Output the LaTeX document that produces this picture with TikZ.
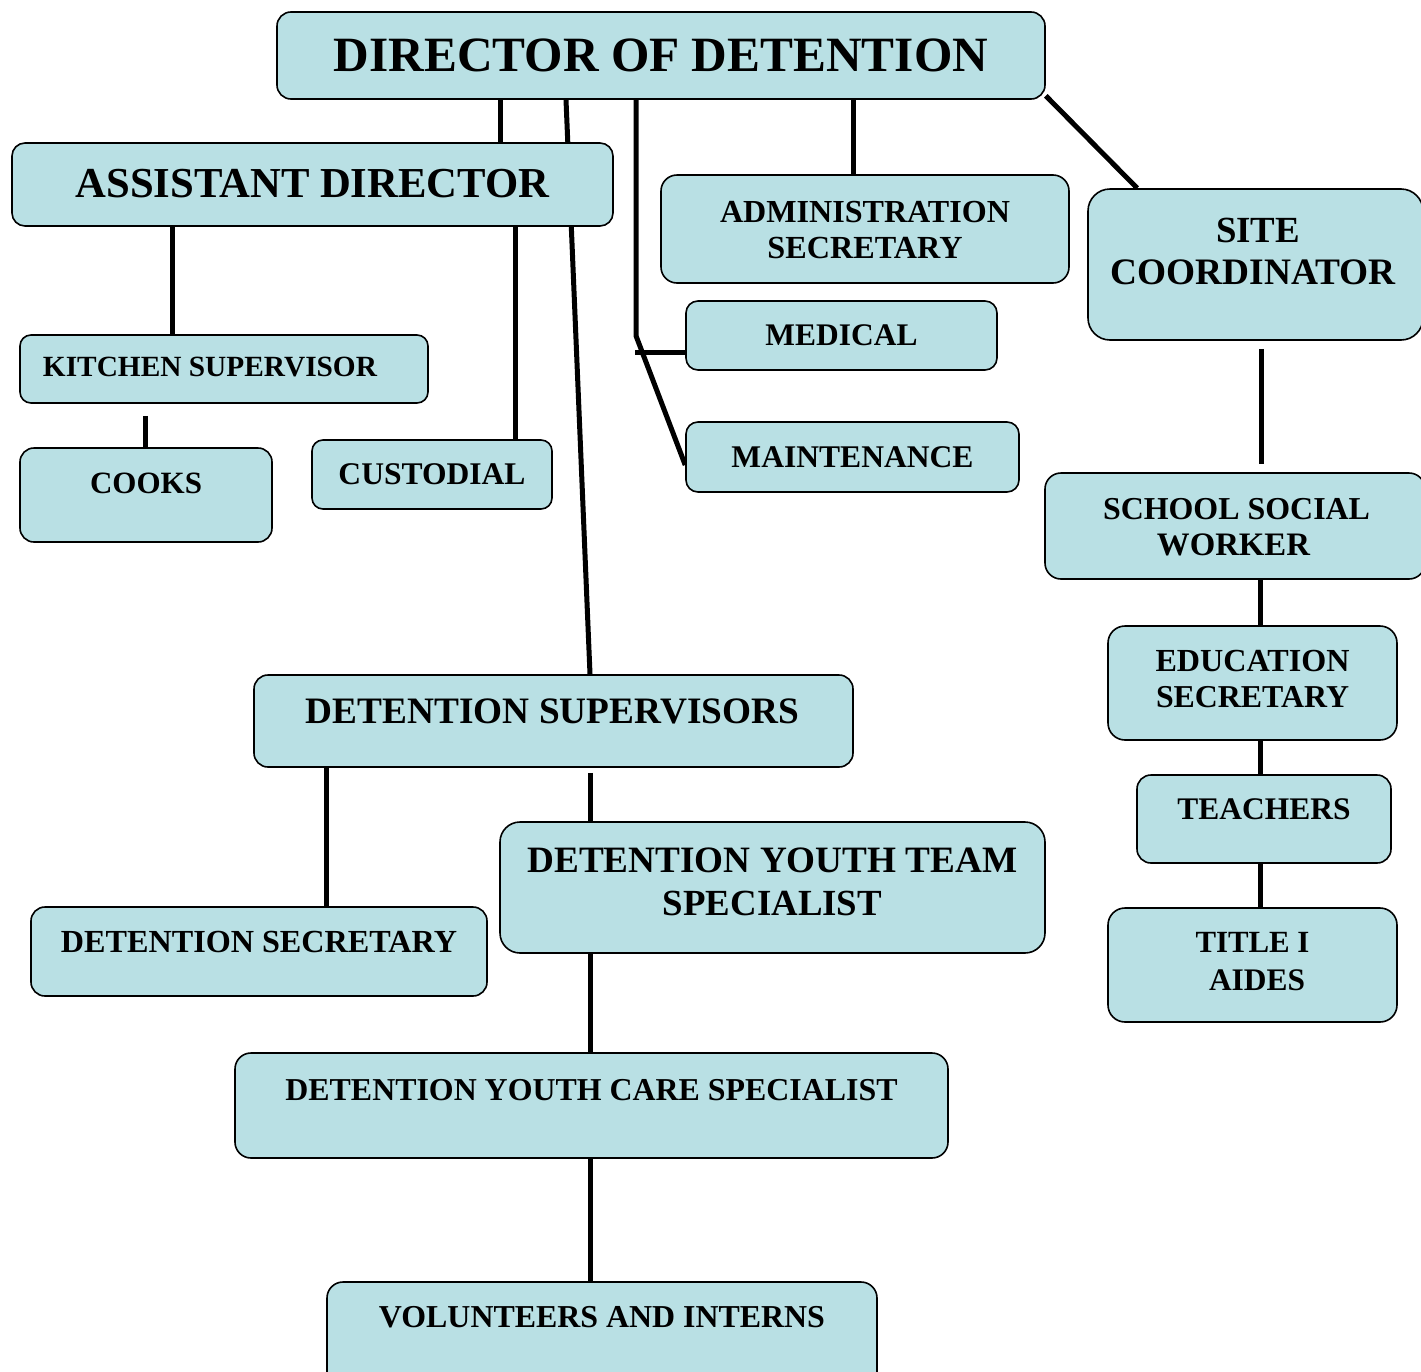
\documentclass[tikz,border=0pt]{standalone}
\usepackage{fontspec}
\setmainfont{Liberation Serif}
\usepackage{graphicx}
\usetikzlibrary{backgrounds}
\definecolor{boxfill}{RGB}{185,224,228}
% one text line: #1 = twice the horizontal offset, #2 = width, #3 = text
\newcommand\tln[3]{\hbox to 0pt{\hss\kern#1pt\smash{\resizebox{#2pt}{!}{\bfseries #3}}\hss}}
% two text lines, #4 = distance between baselines
\newcommand\twol[7]{\vbox{\offinterlineskip\tln{#1}{#2}{#3}\kern#4pt\tln{#5}{#6}{#7}}}
\tikzset{
  orgbox/.style={draw=black, line width=1.6pt, fill=boxfill, inner sep=0pt,
                 anchor=base, minimum height=0pt},
  link/.style={draw=black, line width=5pt}
}
\begin{document}
\begin{tikzpicture}[x=1pt,y=-1pt]
\useasboundingbox (0,0) rectangle (1421,1371);
\clip (0,0) rectangle (1421,1371);

\node[orgbox, minimum width=768pt, text height=59pt, text depth=28pt, rounded corners=14pt]
  (dir) at (661,71) {\tln{0}{654}{DIRECTOR OF DETENTION}};
\node[orgbox, minimum width=601pt, text height=54pt, text depth=29pt, rounded corners=13pt]
  (asst) at (312.5,197) {\tln{0}{474}{ASSISTANT DIRECTOR}};
\node[orgbox, minimum width=408pt, text height=83pt, text depth=25pt, rounded corners=16pt]
  (admin) at (865,258) {\twol{0}{290}{ADMINISTRATION}{36}{0}{195}{SECRETARY}};
\node[orgbox, minimum width=335pt, text height=95pt, text depth=56pt, rounded corners=22pt]
  (site) at (1255.5,284) {\twol{5}{84}{SITE}{42}{-5}{285}{COORDINATOR}};
\node[orgbox, minimum width=311pt, text height=44pt, text depth=25pt, rounded corners=12pt]
  (med) at (841.5,345) {\tln{0}{152}{MEDICAL}};
\node[orgbox, minimum width=333pt, text height=45pt, text depth=25pt, rounded corners=12pt]
  (maint) at (852.5,467) {\tln{0}{242}{MAINTENANCE}};
\node[orgbox, minimum width=408pt, text height=41pt, text depth=27pt, rounded corners=11pt]
  (kitchen) at (224,376) {\tln{-28}{334}{KITCHEN SUPERVISOR}};
\node[orgbox, minimum width=252pt, text height=45pt, text depth=49pt, rounded corners=14pt]
  (cooks) at (146,493) {\tln{0}{112}{COOKS}};
\node[orgbox, minimum width=240pt, text height=44pt, text depth=25pt, rounded corners=11pt]
  (cust) at (432,484) {\tln{0}{187}{CUSTODIAL}};
\node[orgbox, minimum width=380pt, text height=82pt, text depth=24pt, rounded corners=16pt]
  (ssw) at (1235,555) {\twol{3}{267}{SCHOOL SOCIAL}{36}{-3}{153}{WORKER}};
\node[orgbox, minimum width=289pt, text height=81pt, text depth=33pt, rounded corners=17pt]
  (edu) at (1252.5,707) {\twol{0}{194}{EDUCATION}{36}{0}{193}{SECRETARY}};
\node[orgbox, minimum width=254pt, text height=44pt, text depth=44pt, rounded corners=14pt]
  (teach) at (1264,819) {\tln{0}{173}{TEACHERS}};
\node[orgbox, minimum width=289pt, text height=82pt, text depth=32pt, rounded corners=17pt]
  (title) at (1252.5,990) {\twol{0}{114}{TITLE I}{38}{9}{96}{AIDES}};
\node[orgbox, minimum width=599pt, text height=48pt, text depth=44pt, rounded corners=14pt]
  (detsup) at (553.5,723) {\tln{-2}{493}{DETENTION SUPERVISORS}};
\node[orgbox, minimum width=545pt, text height=93pt, text depth=38pt, rounded corners=20pt]
  (dyts) at (772.5,915) {\twol{0}{490}{DETENTION YOUTH TEAM}{43}{0}{219}{SPECIALIST}};
\node[orgbox, minimum width=456pt, text height=45pt, text depth=44pt, rounded corners=14pt]
  (detsec) at (259,952) {\tln{0}{396}{DETENTION SECRETARY}};
\node[orgbox, minimum width=713pt, text height=47pt, text depth=58pt, rounded corners=16pt]
  (dycs) at (591.5,1100) {\tln{0}{612}{DETENTION YOUTH CARE SPECIALIST}};
\node[orgbox, minimum width=550pt, text height=45pt, text depth=68pt, rounded corners=16pt]
  (vol) at (602,1327) {\tln{0}{446}{VOLUNTEERS AND INTERNS}};

\begin{pgfonlayer}{background}
\draw[link] ([xshift=-161pt]dir.south) -- ([xshift=187.5pt]asst.north);
\draw[link] ([xshift=-95pt]dir.south) -- ([xshift=36.5pt]detsup.north);
\draw[link] ([xshift=192pt]dir.south) -- ([xshift=-12pt]admin.north);
\draw[link] ([xshift=-25pt]dir.south) -- ++(0,236) -- ([yshift=-8pt]maint.west);
\draw[link] ([yshift=-16.5pt]med.west) -- ++(-50,0);
\draw[link] ([yshift=4pt]dir.south east) -- ([xshift=50pt]site.north west);
\draw[link] ([xshift=-140.5pt]asst.south) -- ([xshift=-52pt]kitchen.north);
\draw[link] ([xshift=202.5pt]asst.south) -- ([xshift=83pt]cust.north);
\draw[link] ([xshift=-79pt,yshift=-12pt]kitchen.south) -- ([xshift=-1pt]cooks.north);
\draw[link] ([xshift=5.5pt,yshift=-8pt]site.south) -- ([xshift=26pt,yshift=8pt]ssw.north);
\draw[link] ([xshift=25pt]ssw.south) -- ([xshift=7.5pt]edu.north);
\draw[link] ([xshift=7.5pt]edu.south) -- ([xshift=-4pt]teach.north);
\draw[link] ([xshift=-4pt]teach.south) -- ([xshift=7.5pt]title.north);
\draw[link] ([xshift=-227.5pt]detsup.south) -- ([xshift=67pt]detsec.north);
\draw[link] ([xshift=36.5pt,yshift=-5pt]detsup.south) -- ([xshift=-182.5pt]dyts.north);
\draw[link] ([xshift=-182.5pt]dyts.south) -- ([xshift=-1.5pt]dycs.north);
\draw[link] ([xshift=-1.5pt]dycs.south) -- ([xshift=-12pt]vol.north);
\end{pgfonlayer}
\end{tikzpicture}
\end{document}
